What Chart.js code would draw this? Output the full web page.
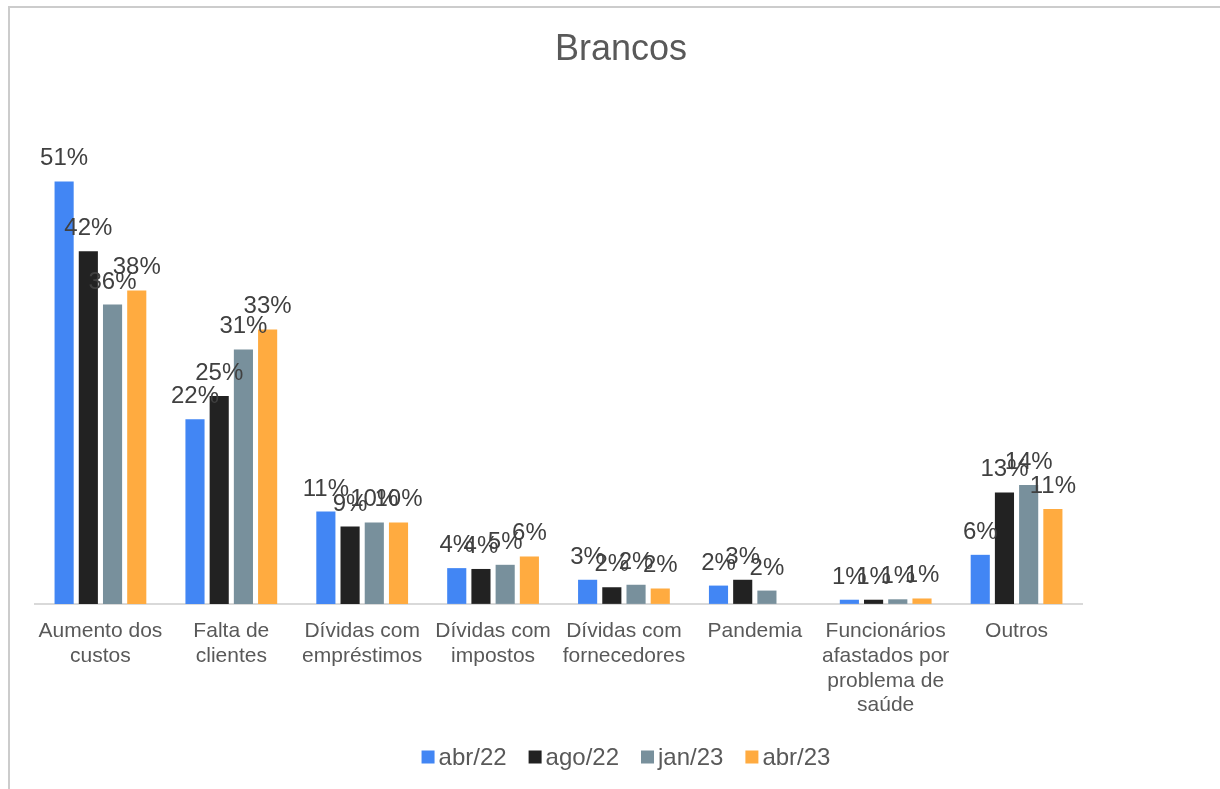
<!DOCTYPE html>
<html>
<head>
<meta charset="utf-8">
<script src="https://cdn.jsdelivr.net/npm/chart.js@4.4.1/dist/chart.umd.min.js"></script>
<style>
  html, body { margin: 0; padding: 0; background: #ffffff; }
  #wrap { position: relative; width: 1220px; height: 789px; overflow: hidden; }
  #frame { position: absolute; left: 8px; top: 6px; width: 1300px; height: 900px; border-left: 2px solid #cccccc; border-top: 2px solid #cccccc; box-sizing: border-box; }
  canvas { position: absolute; left: 0; top: 0; }
</style>
</head>
<body>
<div id="wrap">
  <div id="frame"></div>
  <canvas id="c" width="1220" height="789"></canvas>
</div>
<script>
const categories = [
  ["Aumento dos", "custos"],
  ["Falta de", "clientes"],
  ["Dívidas com", "empréstimos"],
  ["Dívidas com", "impostos"],
  ["Dívidas com", "fornecedores"],
  ["Pandemia"],
  ["Funcionários", "afastados por", "problema de", "saúde"],
  ["Outros"]
];
const seriesNames = ["abr/22", "ago/22", "jan/23", "abr/23"];
const abr22 = [50.8, 22.2, 11.1, 4.3, 2.9, 2.2, 0.5, 5.9];
const ago22 = [42.4, 25.0, 9.3, 4.2, 2.0, 2.9, 0.5, 13.4];
const jan23 = [36.0, 30.6, 9.8, 4.7, 2.3, 1.6, 0.55, 14.3];
const abr23 = [37.7, 33.0, 9.8, 5.7, 1.85, null, 0.65, 11.4];
const seriesColors = ["#4286f4", "#222222", "#78909c", "#ffab40"];
const chartTitle = "Brancos";

const FONT = "'Liberation Sans', Arial, sans-serif";

const dataLabelPlugin = {
  id: 'dataLabels',
  afterDatasetsDraw(chart) {
    const ctx = chart.ctx;
    ctx.save();
    ctx.font = "24px " + FONT;
    ctx.fillStyle = "#404040";
    ctx.textAlign = "center";
    ctx.textBaseline = "alphabetic";
    chart.data.datasets.forEach((ds, di) => {
      const meta = chart.getDatasetMeta(di);
      meta.data.forEach((bar, i) => {
        const v = ds.data[i];
        if (v === null || v === undefined) return;
        ctx.fillText(Math.round(v) + "%", bar.x, bar.y - 16);
      });
    });
    ctx.restore();
  }
};

const titlePlugin = {
  id: 'customTitle',
  afterDraw(chart) {
    const ctx = chart.ctx;
    ctx.save();
    ctx.font = "36px " + FONT;
    ctx.fillStyle = "#595959";
    ctx.textAlign = "center";
    ctx.textBaseline = "middle";
    ctx.fillText(chartTitle, 621, 50);
    ctx.restore();
  }
};

const legendPlugin = {
  id: 'customLegend',
  afterDraw(chart) {
    const ctx = chart.ctx;
    ctx.save();
    ctx.font = "24px " + FONT;
    ctx.textBaseline = "middle";
    ctx.textAlign = "left";
    const box = 13, gapText = 4, gapItem = 22;
    const widths = chart.data.datasets.map(ds => box + gapText + ctx.measureText(ds.label).width);
    const total = widths.reduce((a, b) => a + b, 0) + gapItem * (widths.length - 1);
    let x = 626 - total / 2;
    const y = 757;
    chart.data.datasets.forEach((ds, i) => {
      ctx.fillStyle = ds.backgroundColor;
      ctx.fillRect(x, y - box / 2, box, box);
      ctx.fillStyle = "#595959";
      ctx.fillText(ds.label, x + box + gapText, y + 1);
      x += widths[i] + gapItem;
    });
    ctx.restore();
  }
};

const seriesData = [abr22, ago22, jan23, abr23];

new Chart(document.getElementById('c'), {
  type: 'bar',
  data: {
    labels: categories,
    datasets: seriesNames.map((name, i) => ({
      label: name,
      data: seriesData[i],
      backgroundColor: seriesColors[i],
      borderWidth: 0,
      categoryPercentage: 0.74,
      barPercentage: 0.79
    }))
  },
  options: {
    responsive: false,
    animation: false,
    devicePixelRatio: 1,
    layout: { padding: { left: 35, right: 138, top: 105, bottom: 56 } },
    plugins: {
      legend: { display: false },
      tooltip: { enabled: false },
      title: { display: false }
    },
    scales: {
      x: {
        grid: { display: false, drawTicks: false },
        border: { display: true, color: "#d9d9d9", width: 2 },
        ticks: {
          color: "#595959",
          font: { family: FONT, size: 21, lineHeight: 1.18 },
          padding: 15,
          maxRotation: 0,
          autoSkip: false
        }
      },
      y: {
        display: false,
        min: 0,
        max: 60
      }
    }
  },
  plugins: [dataLabelPlugin, titlePlugin, legendPlugin]
});
</script>
</body>
</html>
